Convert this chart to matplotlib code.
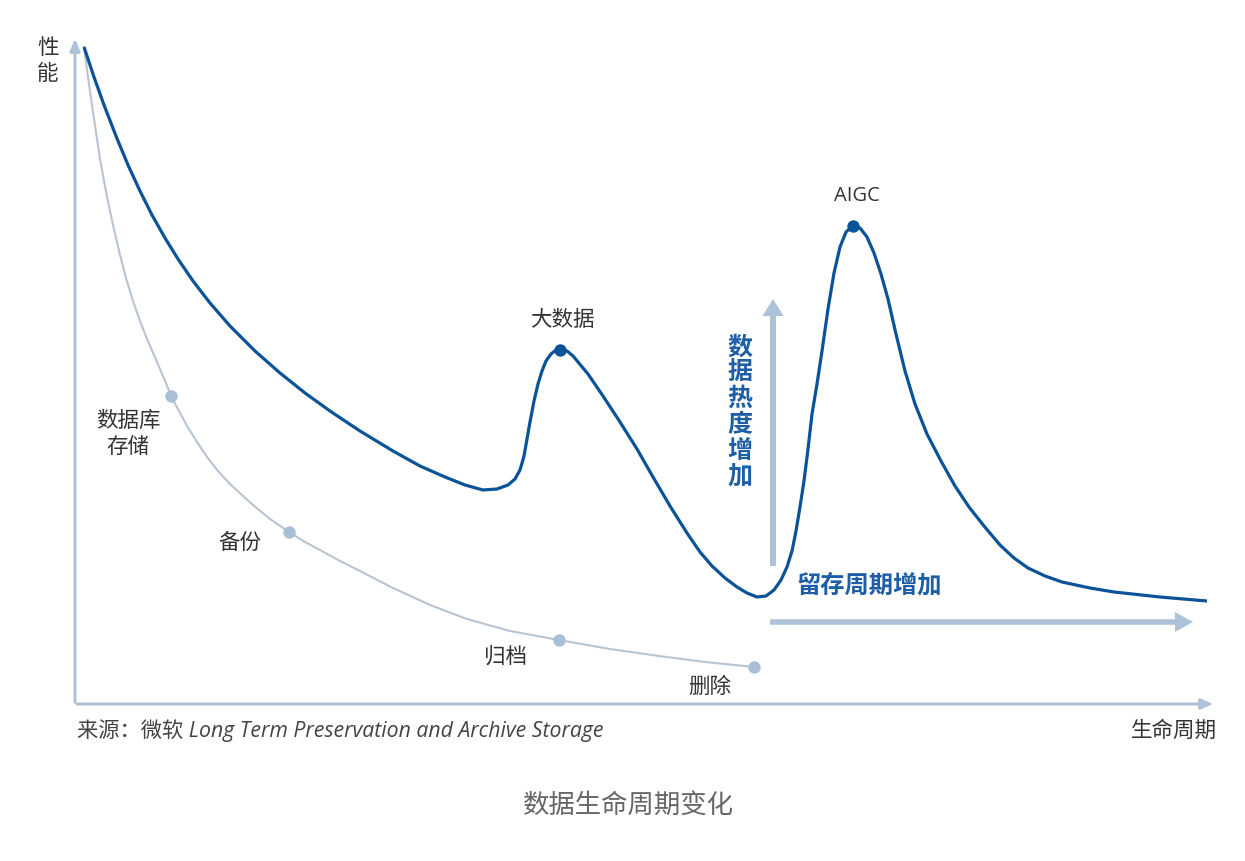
import numpy as np
import matplotlib.pyplot as plt

plt.rcParams['font.family'] = ['Noto Sans CJK SC', 'DejaVu Sans']

# main curve: data heat over lifecycle (units ~ pixels from origin)
hot_x = [9, 19, 29, 41, 53, 65, 77, 90, 103, 118, 135, 155, 180, 205, 230, 255, 285, 318, 345,
         370, 390, 408, 422, 433, 440, 445, 449, 452, 455, 459, 463, 467, 471, 476, 481, 486,
         492, 498, 513, 528, 545, 562, 578, 595, 612, 625, 637, 650, 662, 672, 682, 691, 699,
         706, 712, 717, 721, 725, 729, 733, 737, 742, 747, 753, 759, 765, 771, 778, 785, 792,
         799, 806, 813, 821, 830, 840, 852, 866, 880, 894, 909, 925, 939, 953, 970, 987, 1015,
         1039, 1085, 1132]
hot_y = [657, 627, 599, 568, 539, 513, 489, 466, 445, 423, 401, 378, 353, 331, 311, 293, 273, 253, 238,
         227, 219, 214, 215, 219, 225, 234, 248, 265, 282, 303, 320, 333, 343, 350, 354, 355,
         353, 348, 330, 308, 282, 255, 227, 198, 171, 152, 138, 126, 117, 111, 107, 108, 114,
         124, 137, 153, 173, 197, 223, 255, 290, 320, 353, 395, 431, 457, 472, 478, 476, 467,
         451, 430, 405, 370, 333, 300, 270, 243, 218, 197, 178, 159, 146, 136, 128, 122, 116,
         112, 107, 103]

# storage tiers curve
tier_x = [9, 13, 18, 25, 32, 38, 45, 51, 58, 65, 72, 79, 85, 91, 96, 104, 112, 122, 132, 143,
          155, 167, 178, 195, 214, 230, 245, 265, 285, 316, 355, 392, 435, 484, 535, 584, 630, 679]
tier_y = [657, 627, 592, 545, 507, 479, 449, 426, 403, 383, 365, 349, 335, 321, 308, 293, 278, 262, 247, 233,
          220, 209, 199, 185, 172, 162, 154, 143, 133, 117, 99, 85, 73, 64, 55, 48, 42, 37]

peak_labels = ['大数据', 'AIGC']
peak_x = [485, 778]
peak_y = [354, 478]

tier_labels = ['数据库\n存储', '备份', '归档', '删除']
tier_dot_x = [96, 214, 484, 679]
tier_dot_y = [308, 172, 64, 37]
tier_text_x = [53, 165, 430, 635]
tier_text_y = [271, 162, 48, 18]

DARK = '#0b5398'
BOLD_BLUE = '#1d5ea6'
AXIS = '#adc1d8'
TIER = '#b8c4d2'
DOT = '#a9bfd8'
TXT = '#333333'

fig = plt.figure(figsize=(12.45, 8.62), dpi=100)
ax = fig.add_axes([0, 0, 1, 1])
ax.set_xlim(-75, 1170)
ax.set_ylim(-157, 705)
ax.axis('off')

# axes with arrows
ax.annotate('', xy=(0, 668), xytext=(0, -1),
            arrowprops=dict(arrowstyle='-|>,head_length=0.7,head_width=0.3', color=AXIS, lw=2.2))
ax.annotate('', xy=(1141, 0), xytext=(-1, 0),
            arrowprops=dict(arrowstyle='-|>,head_length=0.7,head_width=0.3', color=AXIS, lw=2.2))

ax.plot(tier_x, tier_y, color=TIER, lw=1.5, zorder=2, solid_joinstyle='round')
ax.scatter(tier_dot_x, tier_dot_y, s=80, color=DOT, zorder=3, linewidths=0)
ax.plot(hot_x, hot_y, color=DARK, lw=2.3, zorder=4, solid_capstyle='butt', solid_joinstyle='round')
ax.scatter(peak_x, peak_y, s=80, color=DARK, zorder=5, linewidths=0)

for lab, x, y in zip(tier_labels, tier_text_x, tier_text_y):
    ax.text(x, y, lab, ha='center', va='center', fontsize=15.5, color=TXT, linespacing=1.25)

ax.text(peak_x[0] + 2, peak_y[0] + 31, peak_labels[0], ha='center', va='center', fontsize=15.5, color=TXT)
ax.text(peak_x[1] + 4, peak_y[1] + 31, peak_labels[1], ha='center', va='center', fontsize=14.5,
        color=TXT, family=['Open Sans', 'Noto Sans CJK SC'])

# annotation arrows
ax.arrow(698, 138, 0, 267, width=6, head_width=21, head_length=17,
         length_includes_head=True, color=AXIS, lw=0, zorder=1)
ax.arrow(695, 82, 423, 0, width=5.5, head_width=20, head_length=18,
         length_includes_head=True, color=AXIS, lw=0, zorder=1)

ax.text(665, 293, '\n'.join('数据热度增加'), ha='center', va='center', fontsize=18,
        fontweight='bold', color=BOLD_BLUE, linespacing=1.1)
ax.text(794, 120, '留存周期增加', ha='center', va='center', fontsize=17.5,
        fontweight='bold', color=BOLD_BLUE)

ax.text(-27, 644, '性\n能', ha='center', va='center', fontsize=15.5, color=TXT, linespacing=1.2)
ax.text(1142, -26, '生命周期', ha='right', va='center', fontsize=15.5, color=TXT)
ax.text(2, -26, '来源：微软 Long Term Preservation and Archive Storage', ha='left', va='center',
        fontsize=15.3, color='#444444', style='italic', family=['Open Sans', 'Noto Sans CJK SC'])
ax.text(553, -101, '数据生命周期变化', ha='center', va='center', fontsize=19, color='#666666')

fig.savefig('out.png', dpi=100)
